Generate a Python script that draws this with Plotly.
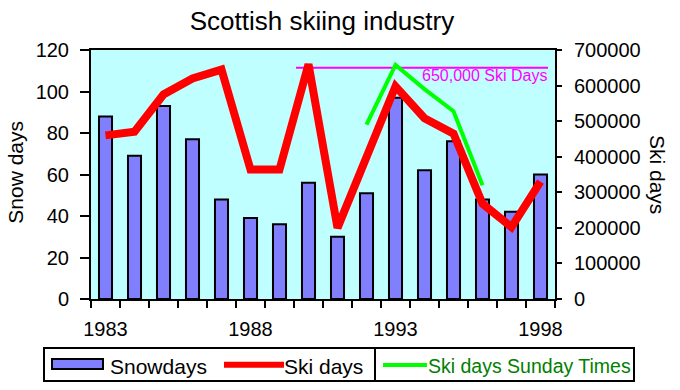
import plotly.graph_objects as go

years = list(range(1983, 1999))
snow_days = [88, 69, 93, 77, 48, 39, 36, 56, 30, 51, 97, 62, 76, 48, 42, 60]
ski_days = [460000, 470000, 575000, 620000, 645000, 364000, 364000, 660000,
            200000, 400000, 598000, 508000, 465000, 268000, 202000, 330000]
st_years = [1992, 1993, 1994, 1995, 1996]
ski_days_st = [490000, 658000, 590000, 528000, 320000]
ref_value = 650000
ref_label = "650,000 Ski Days"
tick_years = [1983, 1988, 1993, 1998]

FONT = "Liberation Sans, Arial, sans-serif"
W, H = 680, 390
L, T, R, B = 91, 50, 555, 299
PW, PH = R - L, B - T
x_range = [years[0] - 0.5, years[-1] + 0.5]
boundaries = [y - 0.5 for y in years] + [years[-1] + 0.5]


def px(x):
    return (x - L) / PW


def py(y):
    return (B - y) / PH


fig = go.Figure()
fig.add_trace(go.Bar(x=years, y=snow_days, name="Snowdays", width=0.45,
                     marker=dict(color="#8080FF", line=dict(color="black", width=2)),
                     showlegend=False))
fig.add_trace(go.Scatter(x=years, y=ski_days, name="Ski days", yaxis="y2", mode="lines",
                         line=dict(color="#FF0000", width=8), showlegend=False))
fig.add_trace(go.Scatter(x=st_years, y=ski_days_st, name="Ski days Sunday Times",
                         xaxis="x2", yaxis="y2", mode="lines",
                         line=dict(color="#00FF00", width=4), showlegend=False))

shapes = [
    dict(type="line", xref="x", yref="y2", x0=1989.57, x1=1998.26, y0=ref_value, y1=ref_value,
         line=dict(color="#FF00FF", width=2), layer="below"),
    # legend box
    dict(type="rect", xref="paper", yref="paper", x0=px(44), x1=px(634), y0=py(381), y1=py(348),
         line=dict(color="black", width=2), fillcolor="white", layer="above"),
    dict(type="rect", xref="paper", yref="paper", x0=px(52), x1=px(103), y0=py(369), y1=py(359),
         line=dict(color="black", width=2), fillcolor="#8080FF"),
    dict(type="line", xref="paper", yref="paper", x0=px(224), x1=px(284), y0=py(364.7), y1=py(364.7),
         line=dict(color="#FF0000", width=6)),
    dict(type="line", xref="paper", yref="paper", x0=px(375), x1=px(375), y0=py(381), y1=py(348),
         line=dict(color="black", width=2)),
    dict(type="line", xref="paper", yref="paper", x0=px(383), x1=px(427), y0=py(365), y1=py(365),
         line=dict(color="#00FF00", width=4)),
]

annotations = [
    dict(text=ref_label, xref="paper", yref="paper", x=px(549), y=py(75.5), xanchor="right",
         yanchor="middle", showarrow=False, font=dict(family=FONT, size=16, color="#FF00FF")),
    dict(text="Snow days", xref="paper", yref="paper", x=px(14.7), y=py(172), textangle=-90,
         xanchor="center", yanchor="middle", showarrow=False, font=dict(family=FONT, size=21, color="black")),
    dict(text="Ski days", xref="paper", yref="paper", x=px(658), y=py(174), textangle=90,
         xanchor="center", yanchor="middle", showarrow=False, font=dict(family=FONT, size=21, color="black")),
    dict(text="Snowdays", xref="paper", yref="paper", x=px(108), y=py(366), xanchor="left",
         yanchor="middle", showarrow=False, font=dict(family=FONT, size=21, color="black")),
    dict(text="Ski days", xref="paper", yref="paper", x=px(282), y=py(366), xanchor="left",
         yanchor="middle", showarrow=False, font=dict(family=FONT, size=21, color="black")),
    dict(text="Ski days Sunday Times", xref="paper", yref="paper", x=px(426), y=py(366), xanchor="left",
         yanchor="middle", showarrow=False, font=dict(family=FONT, size=19.5, color="#008000")),
]

fig.update_layout(
    width=W, height=H,
    margin=dict(l=L, r=W - R, t=T, b=H - B, pad=0, autoexpand=False),
    paper_bgcolor="white", plot_bgcolor="#C0FFFF",
    font=dict(family=FONT, size=20, color="black"),
    title=dict(text="Scottish skiing industry", x=322 / W, xanchor="center", y=1 - 21 / H,
               yanchor="middle", font=dict(family=FONT, size=26, color="black")),
    showlegend=False,
    xaxis=dict(type="linear", range=x_range, tickmode="array", tickvals=boundaries,
               showticklabels=False, ticks="outside", ticklen=7, tickwidth=2, tickcolor="black",
               showline=True, linecolor="black", linewidth=2, mirror=True, showgrid=False,
               zeroline=False, automargin=False),
    xaxis2=dict(type="linear", range=x_range, overlaying="x", anchor="y", side="bottom",
                tickmode="array", tickvals=tick_years, ticktext=[str(y) for y in tick_years],
                ticks="", showline=False, showgrid=False, zeroline=False, ticklabelstandoff=16,
                automargin=False),
    yaxis=dict(range=[0, 120], dtick=20, ticks="outside", ticklen=9, tickwidth=2, tickcolor="black",
               showline=True, linecolor="black", linewidth=2, showgrid=False, zeroline=False,
               ticklabelstandoff=7, automargin=False),
    yaxis2=dict(range=[0, 700000], dtick=100000, overlaying="y", side="right", ticks="outside",
                ticklen=5, tickwidth=2, tickcolor="black", showline=True, linecolor="black",
                linewidth=2, showgrid=False, zeroline=False, tickformat="d", ticklabelstandoff=8,
                automargin=False),
    shapes=shapes, annotations=annotations,
)

fig.write_html("out.html", config={"displayModeBar": False},
               post_script="document.body.style.margin='0';document.body.style.overflow='hidden';")
